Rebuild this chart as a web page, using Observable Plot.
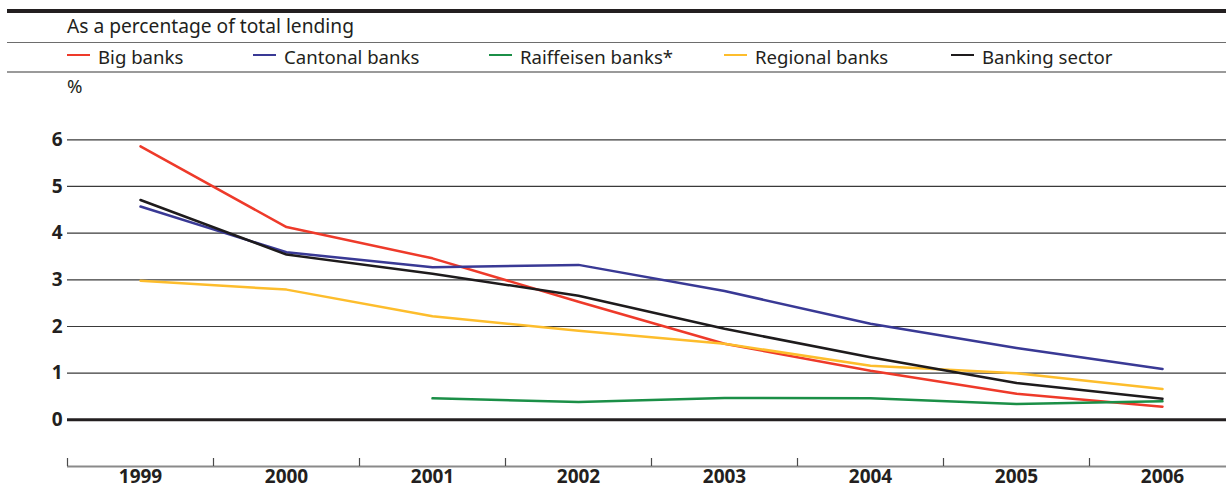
<!DOCTYPE html>
<html>
<head>
<meta charset="utf-8">
<script src="https://cdn.jsdelivr.net/npm/d3@7"></script>
<script src="https://cdn.jsdelivr.net/npm/@observablehq/plot@0.6"></script>
<style>
  html, body { margin: 0; padding: 0; background: #fff; }
  body { width: 1226px; height: 491px; overflow: hidden; position: relative; font-family: "Noto Sans", sans-serif; color: #231f20; }
  #chart { position: absolute; left: 0; top: 0; }
  .hrule { position: absolute; left: 7px; right: 0; }
  #thick { top: 9px; height: 3.5px; background: #231f20; }
  #rule1 { top: 42px; height: 1px; background: #6d6d6d; }
  #rule2 { top: 71px; height: 2px; background: #9a9a9a; }
  #subtitle { position: absolute; left: 67px; top: 16px; font-size: 19.2px; line-height: 19px; white-space: nowrap; }
  #legend { position: absolute; left: 67px; top: 46.5px; font-size: 18.6px; line-height: 19px; white-space: nowrap; display: flex; }
  .item { display: flex; align-items: center; }
  .swatch { display: inline-block; width: 23px; height: 2.5px; margin-right: 8px; position: relative; top: -1px; }
  #unit { position: absolute; left: 67px; top: 75.5px; font-size: 18.6px; line-height: 19px; }
</style>
</head>
<body>
<div id="chart"></div>
<div class="hrule" id="thick"></div>
<div id="subtitle">As a percentage of total lending</div>
<div class="hrule" id="rule1"></div>
<div id="legend"></div>
<div class="hrule" id="rule2"></div>
<div id="unit">%</div>
<script>
// ---- data ----
const years = [1999, 2000, 2001, 2002, 2003, 2004, 2005, 2006];
const seriesNames = ["Big banks", "Cantonal banks", "Raiffeisen banks*", "Regional banks", "Banking sector"];
const seriesColors = ["#ee3a2a", "#393995", "#1b8f47", "#fdbd2c", "#1e1b1c"];
const bigBanks   = [5.86, 4.13, 3.46, 2.53, 1.63, 1.05, 0.56, 0.28];
const cantonal   = [4.57, 3.59, 3.27, 3.32, 2.76, 2.06, 1.54, 1.09];
const raiffeisen = [null, null, 0.46, 0.38, 0.47, 0.46, 0.34, 0.40];
const regional   = [2.98, 2.79, 2.22, 1.91, 1.63, 1.16, 1.00, 0.66];
const sector     = [4.71, 3.54, 3.13, 2.66, 1.95, 1.34, 0.79, 0.45];
const yTicks = [0, 1, 2, 3, 4, 5, 6];
const drawOrder = ["Big banks", "Cantonal banks", "Raiffeisen banks*", "Regional banks", "Banking sector"];

const valuesByName = {
  "Big banks": bigBanks,
  "Cantonal banks": cantonal,
  "Raiffeisen banks*": raiffeisen,
  "Regional banks": regional,
  "Banking sector": sector
};

const rows = [];
for (const name of drawOrder) {
  valuesByName[name].forEach((v, i) => {
    if (v != null) rows.push({series: name, year: years[i], value: v});
  });
}
const bounds = years.map(y => y - 0.5);

// ---- legend ----
const legendWidths = [186, 236, 235, 227, null];
const legend = document.getElementById("legend");
seriesNames.forEach((name, i) => {
  const item = document.createElement("div");
  item.className = "item";
  if (legendWidths[i]) item.style.width = legendWidths[i] + "px";
  const sw = document.createElement("span");
  sw.className = "swatch";
  sw.style.background = seriesColors[i];
  const label = document.createElement("span");
  label.textContent = name;
  item.appendChild(sw);
  item.appendChild(label);
  legend.appendChild(item);
});

// ---- chart ----
const W = 1226, H = 491;
const chart = Plot.plot({
  width: W,
  height: H,
  marginLeft: 67,
  marginRight: 0,
  marginTop: 139,
  marginBottom: 25,
  style: {fontFamily: "Noto Sans, sans-serif", color: "#231f20", background: "transparent", overflow: "hidden"},
  x: {type: "linear", domain: [years[0] - 0.5, years[years.length - 1] + 0.5], range: [67, 1235]},
  y: {domain: [-1, 6], range: [466, 139.3]},
  color: {domain: seriesNames, range: seriesColors},
  marks: [
    Plot.ruleY(yTicks.filter(d => d !== 0), {stroke: "#3a3a3a", strokeWidth: 1.2}),
    Plot.ruleY([-1], {stroke: "#8a8a8a", strokeWidth: 2}),
    Plot.ruleX(bounds, {x: d => d, y1: -1, y2: -1, insetTop: -8, stroke: "#4a4a4a", strokeWidth: 1.2}),
    Plot.axisY(yTicks, {tickSize: 0, tickPadding: 5, fontSize: 19, fontWeight: "bold", label: null, fill: "#231f20"}),
    Plot.axisX(years, {tickSize: 0, tickPadding: 3, fontSize: 19, fontWeight: "bold", label: null, tickFormat: d => String(d), fill: "#231f20"}),
    Plot.line(rows, {x: "year", y: "value", z: "series", stroke: "series", strokeWidth: 2.5, strokeLinejoin: "round"}),
    Plot.ruleY([0], {stroke: "#231f20", strokeWidth: 3})
  ]
});
document.getElementById("chart").appendChild(chart);
</script>
</body>
</html>
